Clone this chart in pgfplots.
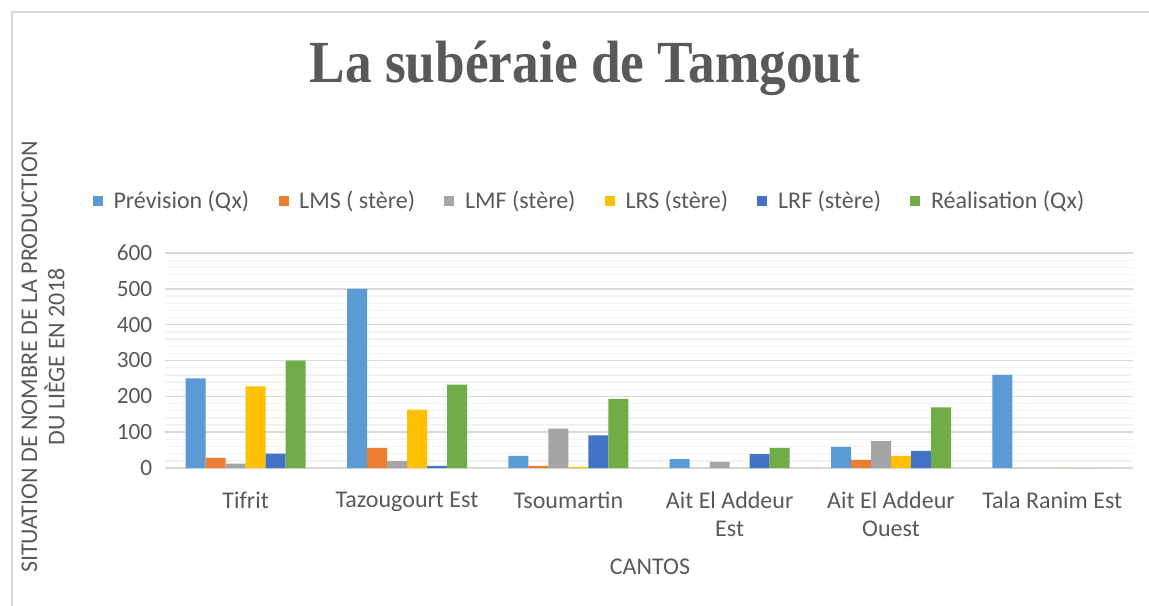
\documentclass[border=0pt]{standalone}
\usepackage{pgfplots}
\usepackage{pgfplotstable}
\pgfplotsset{compat=1.18}
\usepackage{fontspec}
\setmainfont{Carlito}
\newfontfamily\titlefont{Liberation Serif}

\definecolor{cprev}{HTML}{5B9BD5}
\definecolor{clms}{HTML}{ED7D31}
\definecolor{clmf}{HTML}{A5A5A5}
\definecolor{clrs}{HTML}{FFC000}
\definecolor{clrf}{HTML}{4472C4}
\definecolor{creal}{HTML}{70AD47}
\definecolor{txtgray}{HTML}{595959}
\definecolor{gmaj}{HTML}{D9D9D9}
\definecolor{gmin}{HTML}{F2F2F2}

% values
\pgfplotstableread{
x prev lms lmf lrs lrf real
0 250 28 12 228 40 300
1 500 56 19 163 6 233
2 34 6 110 3 91 193
3 25 0 17 0 39 56
4 59 23 75 34 48 169
5 260 0 0 0 0 0
}\data

\pgfplotsset{sq/.style={draw=none, fill=#1,
  legend image code/.code={\fill[#1] (0pt,-3.75pt) rectangle (7.5pt,3.75pt);}}}

\begin{document}
\begin{tikzpicture}
\path[use as bounding box] (0pt,0pt) rectangle (861.75pt,-454.5pt);
\draw[gmaj, line width=1pt] (9pt,-454.5pt) -- (9pt,-9pt) -- (861.75pt,-9pt);
\node[font=\titlefont\bfseries\fontsize{40}{48}\selectfont, text=txtgray, yscale=1.12] at (438.75pt,-51.5pt) {La subéraie de Tamgout};
\node[rotate=90, align=center, font=\fontsize{18}{20.5}\selectfont, text=txtgray] at (32.25pt,-267.75pt)
  {SITUATION DE NOMBRE DE LA PRODUCTION\\DU LIÈGE EN 2018};
\node[font=\fontsize{18}{21}\selectfont, text=txtgray] at (487.5pt,-425.25pt) {CANTOS};
\begin{axis}[
    at={(123.75pt,-351pt)}, anchor=south west,
    scale only axis, width=726pt, height=161.25pt,
    ybar=0pt, bar width=15pt,
    xmin=-0.5, xmax=5.5, ymin=0, ymax=600,
    xtick=data,
    xticklabels={Tifrit, Tazougourt Est, Tsoumartin, {Ait El Addeur\\Est}, {Ait El Addeur\\Ouest}, Tala Ranim Est},
    ytick={0,100,...,600},
    minor y tick num=4,
    ymajorgrids, yminorgrids,
    major grid style={gmaj, line width=1.1pt},
    minor grid style={gmin, line width=1pt},
    major tick length=0pt, minor tick length=0pt,
    axis line style={draw=none},
    /pgf/number format/assume math mode=true,
    tick label style={text=txtgray},
    xticklabel style={align=center, yshift=-14.5pt, font=\fontsize{18}{21}\selectfont},
    yticklabel style={xshift=-6pt, font=\fontsize{17.5}{21}\selectfont},
    legend style={at={(0.439,1.242)}, anchor=center, draw=none, fill=none,
      legend columns=6, font=\fontsize{18}{21}\selectfont, text=txtgray,
      /tikz/every odd column/.append style={column sep=6pt},
      /tikz/every even column/.append style={column sep=20pt}},
    legend cell align=left,
]
\addplot[sq=cprev] table[x=x, y=prev] {\data};
\addplot[sq=clms] table[x=x, y=lms] {\data};
\addplot[sq=clmf] table[x=x, y=lmf] {\data};
\addplot[sq=clrs] table[x=x, y=lrs] {\data};
\addplot[sq=clrf] table[x=x, y=lrf] {\data};
\addplot[sq=creal] table[x=x, y=real] {\data};
\legend{Prévision (Qx), LMS ( stère), LMF (stère), LRS (stère), LRF (stère), Réalisation (Qx)}
\end{axis}
\end{tikzpicture}
\end{document}
